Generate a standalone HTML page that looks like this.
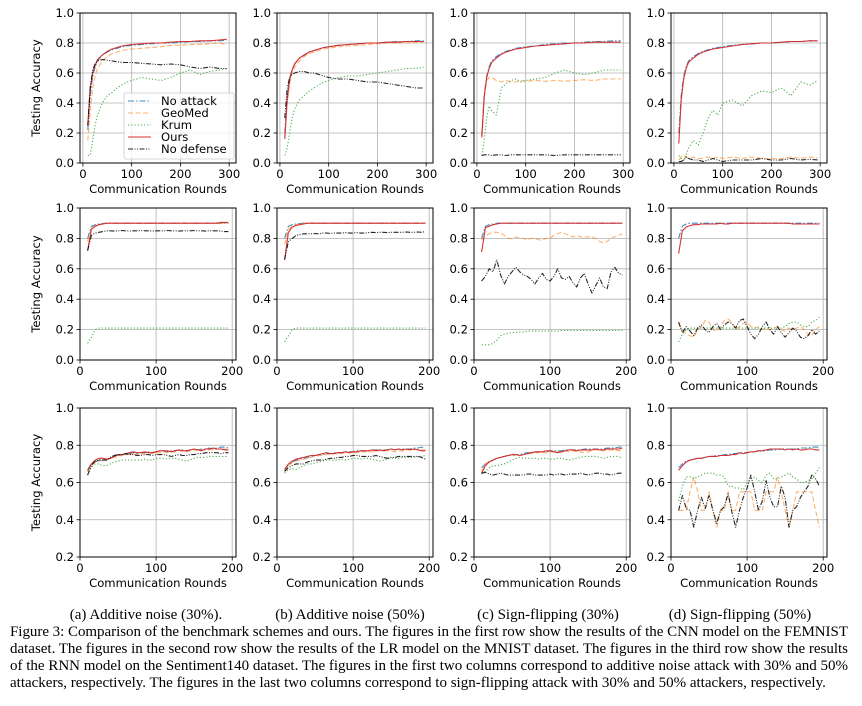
<!DOCTYPE html>
<html><head><meta charset="utf-8">
<style>
html,body{margin:0;padding:0;background:#fff;}
svg{display:block;}
.tk{font-family:"DejaVu Sans","Liberation Sans",sans-serif;font-size:11.6px;fill:#000;}
.cap{font-family:"Liberation Serif",serif;font-size:15px;fill:#000;}
</style></head>
<body>
<svg id="fig" width="862" height="706" viewBox="0 0 862 706" xmlns="http://www.w3.org/2000/svg">
<g id="plots"></g>
<g id="legend"></g>
<g>
<text class="cap" x="146" y="619" text-anchor="middle">(a) Additive noise (30%).</text>
<text class="cap" x="350" y="619" text-anchor="middle">(b) Additive noise (50%)</text>
<text class="cap" x="548" y="619" text-anchor="middle">(c) Sign-flipping (30%)</text>
<text class="cap" x="740" y="619" text-anchor="middle">(d) Sign-flipping (50%)</text>
<text class="cap" x="10" y="636" textLength="838" lengthAdjust="spacing">Figure 3: Comparison of the benchmark schemes and ours. The figures in the first row show the results of the CNN model on the FEMNIST</text>
<text class="cap" x="10" y="653" textLength="838" lengthAdjust="spacing">dataset. The figures in the second row show the results of the LR model on the MNIST dataset. The figures in the third row show the results</text>
<text class="cap" x="10" y="670" textLength="838" lengthAdjust="spacing">of the RNN model on the Sentiment140 dataset. The figures in the first two columns correspond to additive noise attack with 30% and 50%</text>
<text class="cap" x="10" y="687">attackers, respectively. The figures in the last two columns correspond to sign-flipping attack with 30% and 50% attackers, respectively.</text>
</g>
</svg>
<script>
// ---- data ----
const x1 = [10,15,20,25,30,40,50,60,70,80,90,100,120,140,160,180,200,220,240,260,280,295];
const x2 = [10,15,20,25,30,35,40,45,50,55,60,65,70,75,80,85,90,95,100,105,110,115,120,125,130,135,140,145,150,155,160,165,170,175,180,185,190,195];
const xTicks1 = [0,100,200,300];
const xTicks2 = [0,100,200];
const yTicksA = [0.0,0.2,0.4,0.6,0.8,1.0];
const yTicksB = [0.2,0.4,0.6,0.8,1.0];
const yTickLabelsA = ["0.0","0.2","0.4","0.6","0.8","1.0"];
const yTickLabelsB = ["0.2","0.4","0.6","0.8","1.0"];
const seriesNames = ["No attack","GeoMed","Krum","Ours","No defense"];

// Row 1 (CNN / FEMNIST)
const r1a_noattack=[0.22,0.45,0.58,0.64,0.68,0.72,0.74,0.755,0.765,0.775,0.78,0.785,0.79,0.795,0.80,0.80,0.805,0.81,0.81,0.815,0.815,0.82];
const r1a_geomed=[0.15,0.35,0.50,0.58,0.63,0.68,0.71,0.73,0.74,0.75,0.755,0.76,0.765,0.77,0.775,0.785,0.785,0.79,0.79,0.795,0.80,0.79];
const r1a_krum=[0.05,0.05,0.15,0.25,0.32,0.40,0.45,0.47,0.50,0.52,0.54,0.55,0.57,0.56,0.55,0.57,0.60,0.62,0.59,0.61,0.62,0.63];
const r1a_ours=[0.25,0.50,0.60,0.65,0.69,0.72,0.745,0.76,0.77,0.78,0.785,0.79,0.795,0.80,0.80,0.805,0.81,0.81,0.815,0.815,0.82,0.825];
const r1a_nodef=[0.25,0.50,0.62,0.66,0.68,0.69,0.685,0.68,0.675,0.67,0.67,0.67,0.665,0.66,0.655,0.66,0.655,0.64,0.63,0.64,0.63,0.63];
const r1b_noattack=[0.20,0.45,0.57,0.62,0.66,0.70,0.72,0.74,0.75,0.76,0.77,0.775,0.785,0.79,0.795,0.80,0.80,0.805,0.81,0.81,0.815,0.815];
const r1b_geomed=[0.18,0.40,0.53,0.60,0.64,0.68,0.71,0.73,0.74,0.75,0.76,0.765,0.775,0.78,0.785,0.79,0.795,0.80,0.80,0.80,0.805,0.805];
const r1b_krum=[0.05,0.10,0.20,0.30,0.36,0.42,0.45,0.48,0.50,0.52,0.54,0.55,0.57,0.58,0.58,0.59,0.60,0.61,0.62,0.63,0.63,0.64];
const r1b_ours=[0.16,0.42,0.56,0.62,0.66,0.70,0.72,0.74,0.75,0.76,0.77,0.775,0.785,0.79,0.795,0.80,0.80,0.805,0.805,0.81,0.81,0.81];
const r1b_nodef=[0.30,0.50,0.57,0.59,0.60,0.61,0.61,0.60,0.60,0.59,0.58,0.57,0.56,0.56,0.55,0.54,0.54,0.53,0.52,0.51,0.50,0.50];
const r1c_noattack=[0.18,0.45,0.58,0.64,0.68,0.71,0.73,0.745,0.755,0.765,0.77,0.775,0.78,0.79,0.795,0.80,0.80,0.805,0.81,0.81,0.815,0.815];
const r1c_geomed=[0.20,0.45,0.55,0.57,0.57,0.55,0.54,0.55,0.54,0.54,0.55,0.545,0.55,0.545,0.55,0.545,0.55,0.555,0.55,0.56,0.56,0.56];
const r1c_krum=[0.05,0.15,0.30,0.38,0.35,0.32,0.50,0.53,0.55,0.56,0.54,0.55,0.56,0.57,0.60,0.62,0.60,0.59,0.60,0.62,0.62,0.62];
const r1c_ours=[0.17,0.44,0.57,0.63,0.67,0.70,0.725,0.74,0.75,0.76,0.765,0.77,0.78,0.785,0.79,0.795,0.80,0.80,0.805,0.805,0.805,0.805];
const r1c_nodef=[0.05,0.055,0.055,0.055,0.05,0.055,0.055,0.05,0.055,0.055,0.055,0.055,0.055,0.055,0.05,0.055,0.055,0.055,0.055,0.055,0.055,0.055];
const r1d_noattack=[0.20,0.45,0.58,0.64,0.68,0.71,0.73,0.745,0.755,0.765,0.77,0.775,0.785,0.79,0.795,0.80,0.80,0.805,0.81,0.81,0.815,0.815];
const r1d_geomed=[0.02,0.04,0.05,0.04,0.03,0.04,0.03,0.03,0.04,0.03,0.04,0.03,0.04,0.03,0.04,0.03,0.03,0.03,0.04,0.03,0.04,0.035];
const r1d_krum=[0.05,0.03,0.02,0.05,0.10,0.15,0.12,0.20,0.30,0.35,0.32,0.40,0.42,0.38,0.45,0.48,0.47,0.50,0.45,0.54,0.52,0.55];
const r1d_ours=[0.13,0.42,0.56,0.63,0.67,0.70,0.725,0.74,0.75,0.76,0.765,0.77,0.78,0.79,0.795,0.80,0.80,0.805,0.81,0.81,0.815,0.815];
const r1d_nodef=[0.01,0.01,0.02,0.04,0.03,0.02,0.02,0.01,0.02,0.03,0.02,0.01,0.02,0.02,0.02,0.03,0.02,0.02,0.03,0.02,0.025,0.02];

// Row 2 (LR / MNIST)
const r2a_noattack=[0.80,0.88,0.89,0.895,0.898,0.90,0.90,0.90,0.90,0.90,0.90,0.90,0.90,0.90,0.90,0.90,0.90,0.90,0.90,0.90,0.90,0.90,0.90,0.90,0.90,0.90,0.90,0.90,0.90,0.90,0.90,0.90,0.90,0.90,0.90,0.90,0.90,0.90];
const r2a_geomed=[0.78,0.87,0.885,0.89,0.895,0.90,0.90,0.90,0.90,0.90,0.90,0.90,0.90,0.90,0.90,0.90,0.90,0.90,0.90,0.90,0.90,0.90,0.90,0.90,0.90,0.90,0.90,0.90,0.90,0.90,0.90,0.90,0.90,0.90,0.90,0.90,0.90,0.90];
const r2a_krum=[0.11,0.15,0.20,0.21,0.21,0.21,0.21,0.21,0.21,0.21,0.21,0.21,0.21,0.21,0.21,0.21,0.21,0.21,0.21,0.21,0.21,0.21,0.21,0.21,0.21,0.21,0.21,0.21,0.21,0.21,0.21,0.21,0.21,0.21,0.21,0.21,0.21,0.21];
const r2a_ours=[0.72,0.86,0.88,0.89,0.895,0.90,0.90,0.90,0.90,0.90,0.90,0.90,0.90,0.90,0.90,0.90,0.90,0.90,0.90,0.90,0.90,0.90,0.90,0.90,0.90,0.90,0.90,0.90,0.90,0.90,0.90,0.90,0.90,0.90,0.90,0.905,0.905,0.905];
const r2a_nodef=[0.72,0.82,0.835,0.84,0.845,0.85,0.85,0.848,0.85,0.852,0.85,0.848,0.85,0.85,0.852,0.85,0.85,0.848,0.85,0.85,0.85,0.852,0.85,0.85,0.848,0.85,0.85,0.85,0.852,0.85,0.85,0.848,0.85,0.85,0.85,0.848,0.845,0.845];
const r2b_noattack=[0.80,0.88,0.89,0.895,0.898,0.90,0.90,0.90,0.90,0.90,0.90,0.90,0.90,0.90,0.90,0.90,0.90,0.90,0.90,0.90,0.90,0.90,0.90,0.90,0.90,0.90,0.90,0.90,0.90,0.90,0.90,0.90,0.90,0.90,0.90,0.90,0.90,0.90];
const r2b_geomed=[0.76,0.86,0.88,0.89,0.895,0.90,0.90,0.90,0.90,0.90,0.90,0.90,0.90,0.90,0.90,0.90,0.90,0.90,0.90,0.90,0.90,0.90,0.90,0.90,0.90,0.90,0.90,0.90,0.90,0.90,0.90,0.90,0.90,0.90,0.90,0.90,0.90,0.90];
const r2b_krum=[0.12,0.16,0.20,0.21,0.21,0.21,0.21,0.21,0.21,0.21,0.21,0.21,0.21,0.21,0.21,0.21,0.21,0.21,0.21,0.21,0.21,0.21,0.21,0.21,0.21,0.21,0.21,0.21,0.21,0.21,0.21,0.21,0.21,0.21,0.21,0.21,0.21,0.21];
const r2b_ours=[0.66,0.84,0.875,0.885,0.89,0.895,0.90,0.90,0.90,0.90,0.90,0.90,0.90,0.90,0.90,0.90,0.90,0.90,0.90,0.90,0.90,0.90,0.90,0.90,0.90,0.90,0.90,0.90,0.90,0.90,0.90,0.90,0.90,0.90,0.90,0.90,0.90,0.90];
const r2b_nodef=[0.66,0.78,0.80,0.82,0.825,0.83,0.83,0.83,0.832,0.83,0.835,0.835,0.833,0.835,0.835,0.835,0.838,0.835,0.835,0.838,0.835,0.835,0.838,0.84,0.838,0.84,0.84,0.838,0.84,0.84,0.84,0.84,0.842,0.84,0.84,0.842,0.84,0.845];
const r2c_noattack=[0.80,0.88,0.89,0.895,0.90,0.90,0.90,0.90,0.90,0.90,0.90,0.90,0.90,0.90,0.90,0.90,0.90,0.90,0.90,0.90,0.90,0.90,0.90,0.90,0.90,0.90,0.90,0.90,0.90,0.90,0.90,0.90,0.90,0.90,0.90,0.90,0.90,0.90];
const r2c_geomed=[0.79,0.82,0.83,0.84,0.84,0.835,0.82,0.80,0.80,0.81,0.80,0.80,0.79,0.80,0.80,0.79,0.79,0.80,0.80,0.82,0.83,0.84,0.83,0.82,0.81,0.82,0.81,0.81,0.81,0.81,0.80,0.78,0.77,0.78,0.80,0.81,0.82,0.83];
const r2c_krum=[0.10,0.10,0.10,0.11,0.13,0.16,0.17,0.175,0.18,0.18,0.185,0.185,0.19,0.19,0.19,0.19,0.19,0.19,0.19,0.19,0.19,0.195,0.195,0.195,0.195,0.195,0.195,0.195,0.195,0.195,0.195,0.195,0.195,0.195,0.195,0.195,0.195,0.195];
const r2c_ours=[0.71,0.87,0.88,0.89,0.895,0.90,0.90,0.90,0.90,0.90,0.90,0.90,0.90,0.90,0.90,0.90,0.90,0.90,0.90,0.90,0.90,0.90,0.90,0.90,0.90,0.90,0.90,0.90,0.90,0.90,0.90,0.90,0.90,0.90,0.90,0.90,0.90,0.90];
const r2c_nodef=[0.52,0.55,0.60,0.58,0.66,0.56,0.50,0.55,0.58,0.61,0.58,0.56,0.55,0.53,0.50,0.54,0.57,0.53,0.52,0.55,0.60,0.54,0.53,0.55,0.51,0.48,0.54,0.57,0.50,0.44,0.49,0.54,0.48,0.47,0.58,0.61,0.57,0.56];
const r2d_noattack=[0.80,0.88,0.895,0.90,0.90,0.90,0.90,0.90,0.90,0.90,0.90,0.90,0.90,0.90,0.90,0.90,0.90,0.90,0.90,0.90,0.90,0.90,0.90,0.90,0.90,0.90,0.90,0.90,0.90,0.90,0.90,0.90,0.90,0.90,0.90,0.90,0.90,0.90];
const r2d_geomed=[0.24,0.20,0.17,0.16,0.15,0.20,0.22,0.26,0.25,0.20,0.19,0.22,0.26,0.27,0.25,0.20,0.22,0.24,0.25,0.22,0.21,0.22,0.20,0.21,0.20,0.21,0.22,0.20,0.19,0.21,0.20,0.21,0.22,0.20,0.17,0.16,0.20,0.22];
const r2d_krum=[0.12,0.17,0.20,0.21,0.21,0.21,0.21,0.21,0.21,0.21,0.21,0.21,0.21,0.21,0.21,0.21,0.21,0.21,0.21,0.21,0.21,0.21,0.21,0.21,0.21,0.21,0.21,0.21,0.22,0.24,0.25,0.25,0.23,0.22,0.22,0.25,0.26,0.28];
const r2d_ours=[0.70,0.85,0.875,0.885,0.89,0.89,0.895,0.895,0.895,0.895,0.895,0.90,0.895,0.895,0.90,0.90,0.90,0.90,0.90,0.90,0.90,0.90,0.90,0.90,0.90,0.90,0.90,0.90,0.90,0.90,0.895,0.895,0.895,0.895,0.895,0.895,0.895,0.895];
const r2d_nodef=[0.25,0.18,0.22,0.19,0.16,0.21,0.23,0.20,0.18,0.22,0.24,0.20,0.23,0.25,0.24,0.21,0.26,0.27,0.22,0.17,0.14,0.17,0.22,0.25,0.20,0.17,0.22,0.18,0.15,0.18,0.21,0.19,0.15,0.14,0.16,0.20,0.17,0.19];

// Row 3 (RNN / Sentiment140)
const r3a_noattack=[0.67,0.70,0.71,0.72,0.72,0.725,0.73,0.74,0.745,0.75,0.75,0.755,0.76,0.755,0.76,0.76,0.765,0.76,0.765,0.77,0.77,0.765,0.77,0.77,0.775,0.775,0.77,0.775,0.78,0.775,0.78,0.78,0.785,0.78,0.785,0.79,0.79,0.785];
const r3a_geomed=[0.66,0.695,0.71,0.715,0.72,0.72,0.73,0.735,0.74,0.745,0.75,0.75,0.755,0.75,0.755,0.755,0.76,0.755,0.76,0.76,0.765,0.76,0.765,0.765,0.77,0.77,0.765,0.77,0.775,0.77,0.775,0.775,0.775,0.775,0.78,0.78,0.78,0.775];
const r3a_krum=[0.64,0.68,0.70,0.70,0.69,0.69,0.70,0.71,0.715,0.72,0.72,0.72,0.72,0.72,0.72,0.725,0.72,0.72,0.73,0.73,0.73,0.725,0.73,0.73,0.725,0.72,0.715,0.72,0.73,0.735,0.735,0.735,0.74,0.74,0.74,0.74,0.74,0.74];
const r3a_ours=[0.66,0.70,0.72,0.73,0.73,0.725,0.73,0.74,0.75,0.75,0.755,0.76,0.765,0.76,0.76,0.765,0.76,0.76,0.765,0.77,0.77,0.77,0.765,0.77,0.775,0.77,0.77,0.775,0.78,0.775,0.77,0.78,0.78,0.785,0.78,0.78,0.775,0.775];
const r3a_nodef=[0.64,0.69,0.715,0.72,0.72,0.72,0.735,0.745,0.75,0.75,0.755,0.75,0.75,0.745,0.745,0.75,0.75,0.745,0.75,0.75,0.75,0.745,0.74,0.745,0.75,0.745,0.745,0.75,0.75,0.755,0.755,0.76,0.76,0.76,0.76,0.755,0.76,0.76];
const r3b_noattack=[0.67,0.695,0.71,0.72,0.725,0.73,0.735,0.74,0.745,0.75,0.75,0.755,0.755,0.76,0.76,0.76,0.765,0.765,0.765,0.77,0.77,0.77,0.77,0.775,0.775,0.775,0.775,0.775,0.78,0.775,0.78,0.78,0.78,0.78,0.785,0.785,0.79,0.785];
const r3b_geomed=[0.66,0.69,0.705,0.715,0.72,0.725,0.73,0.735,0.74,0.745,0.745,0.75,0.75,0.755,0.755,0.755,0.76,0.76,0.76,0.76,0.765,0.765,0.765,0.765,0.77,0.77,0.77,0.77,0.77,0.765,0.77,0.77,0.775,0.775,0.775,0.78,0.775,0.775];
const r3b_krum=[0.65,0.67,0.675,0.67,0.68,0.69,0.70,0.70,0.705,0.71,0.715,0.72,0.72,0.72,0.72,0.725,0.72,0.725,0.73,0.73,0.725,0.73,0.73,0.725,0.72,0.715,0.72,0.725,0.73,0.73,0.73,0.735,0.735,0.735,0.735,0.74,0.74,0.745];
const r3b_ours=[0.67,0.70,0.715,0.725,0.73,0.735,0.74,0.745,0.745,0.75,0.755,0.76,0.755,0.755,0.76,0.76,0.765,0.76,0.765,0.765,0.77,0.77,0.77,0.775,0.77,0.775,0.77,0.775,0.78,0.775,0.78,0.775,0.78,0.775,0.78,0.775,0.77,0.77];
const r3b_nodef=[0.66,0.68,0.69,0.70,0.70,0.70,0.71,0.715,0.72,0.72,0.72,0.725,0.73,0.73,0.735,0.735,0.74,0.74,0.745,0.745,0.74,0.74,0.74,0.74,0.745,0.74,0.735,0.73,0.735,0.735,0.74,0.74,0.74,0.74,0.74,0.74,0.735,0.725];
const r3c_noattack=[0.68,0.70,0.715,0.72,0.73,0.735,0.74,0.745,0.745,0.75,0.75,0.755,0.76,0.76,0.76,0.765,0.765,0.765,0.77,0.77,0.77,0.77,0.775,0.775,0.775,0.775,0.775,0.78,0.78,0.78,0.78,0.78,0.78,0.785,0.785,0.785,0.79,0.79];
const r3c_geomed=[0.66,0.70,0.715,0.72,0.73,0.735,0.74,0.745,0.745,0.75,0.745,0.75,0.755,0.755,0.76,0.76,0.76,0.76,0.765,0.765,0.765,0.765,0.77,0.765,0.77,0.765,0.765,0.76,0.765,0.77,0.775,0.775,0.77,0.775,0.775,0.775,0.77,0.775];
const r3c_krum=[0.645,0.66,0.68,0.69,0.69,0.695,0.70,0.71,0.72,0.73,0.735,0.73,0.73,0.73,0.73,0.725,0.73,0.73,0.725,0.725,0.73,0.73,0.725,0.72,0.725,0.73,0.735,0.74,0.74,0.74,0.74,0.735,0.73,0.735,0.74,0.74,0.74,0.73];
const r3c_ours=[0.65,0.69,0.71,0.72,0.73,0.735,0.74,0.745,0.75,0.75,0.745,0.75,0.755,0.76,0.765,0.765,0.765,0.77,0.77,0.765,0.76,0.765,0.77,0.775,0.775,0.77,0.775,0.775,0.775,0.775,0.78,0.775,0.775,0.78,0.78,0.78,0.78,0.785];
const r3c_nodef=[0.65,0.655,0.645,0.64,0.645,0.65,0.645,0.64,0.64,0.64,0.64,0.64,0.645,0.645,0.64,0.64,0.64,0.64,0.645,0.64,0.645,0.645,0.64,0.645,0.645,0.645,0.65,0.645,0.64,0.645,0.65,0.65,0.645,0.645,0.64,0.645,0.65,0.65];
const r3d_noattack=[0.68,0.70,0.715,0.72,0.725,0.73,0.73,0.735,0.74,0.74,0.745,0.745,0.75,0.75,0.755,0.755,0.76,0.76,0.76,0.765,0.765,0.77,0.77,0.77,0.775,0.775,0.775,0.78,0.78,0.78,0.78,0.78,0.785,0.785,0.785,0.79,0.79,0.79];
const r3d_geomed=[0.45,0.45,0.45,0.55,0.63,0.55,0.45,0.45,0.55,0.45,0.36,0.45,0.45,0.55,0.45,0.45,0.55,0.55,0.55,0.55,0.45,0.45,0.45,0.55,0.55,0.55,0.63,0.55,0.45,0.36,0.45,0.55,0.55,0.55,0.55,0.55,0.45,0.36];
const r3d_krum=[0.50,0.58,0.63,0.63,0.62,0.63,0.64,0.65,0.65,0.65,0.64,0.64,0.63,0.58,0.58,0.57,0.57,0.56,0.60,0.62,0.63,0.61,0.60,0.64,0.65,0.62,0.62,0.63,0.64,0.65,0.63,0.62,0.60,0.60,0.61,0.62,0.65,0.68];
const r3d_ours=[0.665,0.69,0.71,0.72,0.725,0.73,0.73,0.735,0.74,0.74,0.74,0.745,0.745,0.745,0.75,0.75,0.76,0.755,0.76,0.765,0.765,0.77,0.77,0.775,0.78,0.78,0.78,0.78,0.775,0.78,0.775,0.78,0.775,0.775,0.78,0.78,0.775,0.775];
const r3d_nodef=[0.45,0.53,0.46,0.45,0.36,0.45,0.52,0.46,0.53,0.45,0.38,0.45,0.47,0.54,0.44,0.36,0.45,0.52,0.57,0.64,0.55,0.45,0.50,0.61,0.52,0.47,0.47,0.58,0.52,0.36,0.45,0.47,0.52,0.55,0.58,0.64,0.62,0.58];

// ---- layout ----
const NS="http://www.w3.org/2000/svg";
const lefts=[80,277,474,671], W=156;
const rows=[
 {top:13,bot:163,xd:[-6,314],yd:[0,1],yt:yTicksA,yl:yTickLabelsA,xt:xTicks1,x:x1,data:[[r1a_noattack,r1a_geomed,r1a_krum,r1a_ours,r1a_nodef],[r1b_noattack,r1b_geomed,r1b_krum,r1b_ours,r1b_nodef],[r1c_noattack,r1c_geomed,r1c_krum,r1c_ours,r1c_nodef],[r1d_noattack,r1d_geomed,r1d_krum,r1d_ours,r1d_nodef]]},
 {top:208,bot:360,xd:[0,205],yd:[0,1],yt:yTicksA,yl:yTickLabelsA,xt:xTicks2,x:x2,data:[[r2a_noattack,r2a_geomed,r2a_krum,r2a_ours,r2a_nodef],[r2b_noattack,r2b_geomed,r2b_krum,r2b_ours,r2b_nodef],[r2c_noattack,r2c_geomed,r2c_krum,r2c_ours,r2c_nodef],[r2d_noattack,r2d_geomed,r2d_krum,r2d_ours,r2d_nodef]]},
 {top:408,bot:557,xd:[0,205],yd:[0.2,1],yt:yTicksB,yl:yTickLabelsB,xt:xTicks2,x:x2,data:[[r3a_noattack,r3a_geomed,r3a_krum,r3a_ours,r3a_nodef],[r3b_noattack,r3b_geomed,r3b_krum,r3b_ours,r3b_nodef],[r3c_noattack,r3c_geomed,r3c_krum,r3c_ours,r3c_nodef],[r3d_noattack,r3d_geomed,r3d_krum,r3d_ours,r3d_nodef]]}
];
const styles=[
 {c:"#1f77b4",d:"6 2 1.5 2",o:0.85},
 {c:"#ff7f0e",d:"5 2.5",o:0.6},
 {c:"#2ca02c",d:"1.2 2",o:0.85},
 {c:"#d62728",d:"",o:0.95},
 {c:"#000000",d:"5 1.5 1 1.5 1 1.5",o:0.85}
];
const keys=["noattack","geomed","krum","ours","nodef"];
function mk(tag,attrs,parent){const e=document.createElementNS(NS,tag);for(const k in attrs)e.setAttribute(k,attrs[k]);parent.appendChild(e);return e;}
const plots=document.getElementById('plots');
const colLetters=["a","b","c","d"];
rows.forEach((r,ri)=>{
 lefts.forEach((L,ci)=>{
  const R=L+W;
  const sx=v=>L+(v-r.xd[0])/(r.xd[1]-r.xd[0])*W;
  const sy=v=>r.bot-(v-r.yd[0])/(r.yd[1]-r.yd[0])*(r.bot-r.top);
  const g=mk('g',{},plots);
  
  
  const cid='clip'+ri+ci;
  const cp=mk('clipPath',{id:cid},g);mk('rect',{x:L,y:r.top,width:W,height:r.bot-r.top},cp);
  const grid=mk('g',{stroke:"#b0b0b0","stroke-width":0.8},g);
  
  
  r.xt.forEach(t=>mk('line',{x1:sx(t),x2:sx(t),y1:r.top,y2:r.bot},grid));
  r.yt.forEach(t=>mk('line',{x1:L,x2:R,y1:sy(t),y2:sy(t)},grid));
  const lines=mk('g',{"clip-path":"url(#"+cid+")",fill:"none"},g);
  r.data[ci].forEach((ys,si)=>{
   const n=Math.min(ys.length,r.x.length);
   let d="";for(let i=0;i<n;i++)d+=(i?"L":"M")+sx(r.x[i]).toFixed(1)+","+sy(ys[i]).toFixed(1);
   const st=styles[si];
   const p=mk('path',{d:d,stroke:st.c,"stroke-width":1.1,"stroke-opacity":st.o,"stroke-dasharray":st.d,"stroke-linejoin":"round"},lines);
   
   
  });
  const fr=mk('rect',{x:L,y:r.top,width:W,height:r.bot-r.top,fill:"none",stroke:"#000","stroke-width":1},g);
  
  
  const xa=mk('g',{},g);
  
  
  r.xt.forEach(t=>{mk('line',{x1:sx(t),x2:sx(t),y1:r.bot,y2:r.bot+3.5,stroke:"#000","stroke-width":0.8},xa);
   const tx=mk('text',{x:sx(t),y:r.bot+15,"text-anchor":"middle",class:"tk"},xa);tx.textContent=String(t);});
  const xl=mk('text',{x:(L+R)/2,y:r.bot+30,"text-anchor":"middle",class:"tk"},g);
  xl.textContent="Communication Rounds";
  
  
  const ya=mk('g',{},g);
  
  
  r.yt.forEach((t,i)=>{mk('line',{x1:L-3.5,x2:L,y1:sy(t),y2:sy(t),stroke:"#000","stroke-width":0.8},ya);
   const tx=mk('text',{x:L-6,y:sy(t)+4,"text-anchor":"end",class:"tk"},ya);tx.textContent=r.yl[i];});
  if(ci===0){
   const cy=(r.top+r.bot)/2;
   const yl=mk('text',{x:0,y:0,"text-anchor":"middle",class:"tk",transform:"translate(40,"+cy+") rotate(-90)"},g);
   yl.textContent="Testing Accuracy";
   
   
  }
 });
});
// legend
const lg=document.getElementById('legend');
mk('rect',{x:124,y:93,width:110,height:66,rx:2,fill:"#fff","fill-opacity":0.8,stroke:"#cccccc","stroke-width":0.8},lg);
seriesNames.forEach((nm,i)=>{
 const y=101+i*12;const st=styles[i];
 const e=mk('g',{},lg);
 
 
 mk('line',{x1:128,x2:151,y1:y,y2:y,stroke:st.c,"stroke-width":1.1,"stroke-opacity":st.o,"stroke-dasharray":st.d},e);
 const t=mk('text',{x:161,y:y+4,class:"tk"},e);t.textContent=nm;
});
</script>
</body></html>
